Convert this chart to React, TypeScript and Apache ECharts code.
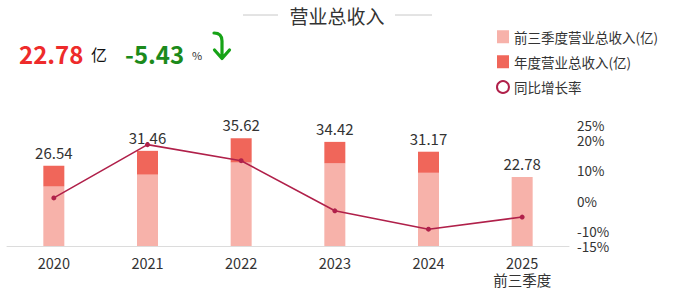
import React, { useEffect, useRef } from "react";
import * as echarts from "echarts";

const years = ["2020", "2021", "2022", "2023", "2024", "2025\n前三季度"];
const q3Revenue = [19.7, 23.6, 27.6, 27.3, 24.2, 22.78];
const annualRevenue: (number | null)[] = [26.54, 31.46, 35.62, 34.42, 31.17, null];
const growthRate = [0.9, 18.5, 13.2, -3.37, -9.44, -5.43];
const rightTicks = [25, 20, 10, 0, -10, -15];

const headlineValue = "22.78";
const headlineUnit = "亿";
const headlineGrowth = "-5.43";

const FONT = "'Noto Sans CJK SC', 'Noto Sans', sans-serif";

echarts.graphic.registerShape(
  "downArrow",
  echarts.graphic.extendPath("M1 1 Q9 1 9 9 L9 26 M1.5 18 L9 26.5 L16.5 18", {})
);

export default function App() {
  const ref = useRef<HTMLDivElement>(null);
  useEffect(() => {
    if (!ref.current) return;
    document.body.style.margin = "0";
    const chart = echarts.init(ref.current, undefined, { renderer: "svg" });
    const remainder = annualRevenue.map((a, i) =>
      a == null ? null : +(a - q3Revenue[i]).toFixed(2)
    );
    const labelStyle = { show: true, position: "top", color: "#333", fontSize: 15, fontFamily: FONT, distance: 6 };
    chart.setOption({
      animation: false,
      textStyle: { fontFamily: FONT },
      grid: { left: 7, right: 110, top: 125, bottom: 47 },
      legend: {
        orient: "vertical",
        left: 491,
        top: 25,
        itemWidth: 12,
        itemHeight: 13,
        itemGap: 11.5,
        textStyle: { fontSize: 13.5, color: "#333", fontFamily: FONT },
        data: [
          { name: "前三季度营业总收入(亿)", icon: "rect" },
          { name: "年度营业总收入(亿)", icon: "rect" },
          {
            name: "同比增长率",
            icon: "circle",
            itemStyle: { color: "#fff", borderColor: "#B0204A", borderWidth: 2 },
          },
        ],
      },
      xAxis: {
        type: "category",
        data: years,
        axisLine: { lineStyle: { color: "#dcdcdc" } },
        axisTick: { show: false },
        axisLabel: { color: "#333", fontSize: 14.5, margin: 8, lineHeight: 17, fontFamily: FONT },
      },
      yAxis: [
        { type: "value", min: 0, max: 40, show: false, splitLine: { show: false } },
        {
          type: "value",
          min: -15,
          max: 25,
          interval: 5,
          position: "right",
          axisLine: { show: false },
          axisTick: { show: false },
          splitLine: { show: false },
          axisLabel: {
            color: "#333",
            fontSize: 13.5,
            lineHeight: 14,
            margin: 8,
            fontFamily: FONT,
            formatter: (v: number) => (rightTicks.includes(v) ? v + "%" : ""),
          },
        },
      ],
      graphic: [
        { type: "line", shape: { x1: 243, y1: 15, x2: 278, y2: 15 }, style: { stroke: "#c8c8c8", lineWidth: 1 } },
        { type: "line", shape: { x1: 395, y1: 15, x2: 432, y2: 15 }, style: { stroke: "#c8c8c8", lineWidth: 1 } },
        {
          type: "text",
          x: 337,
          y: 15,
          style: { text: "营业总收入", fontSize: 19, fill: "#333", fontFamily: FONT, align: "center", verticalAlign: "middle" },
        },
        {
          type: "text",
          x: 19,
          y: 53,
          style: { text: headlineValue, fontSize: 24, fontWeight: "bold", fill: "#EE2B2B", fontFamily: FONT, verticalAlign: "middle" },
        },
        {
          type: "text",
          x: 91,
          y: 54,
          style: { text: headlineUnit, fontSize: 16, fill: "#111", fontFamily: FONT, verticalAlign: "middle" },
        },
        {
          type: "text",
          x: 125,
          y: 53,
          style: { text: headlineGrowth, fontSize: 24, fontWeight: "bold", fill: "#1B8A1B", fontFamily: FONT, verticalAlign: "middle" },
        },
        {
          type: "text",
          x: 192,
          y: 55,
          style: { text: "%", fontSize: 11, fill: "#333", fontFamily: FONT, verticalAlign: "middle" },
        },
        {
          type: "downArrow",
          x: 213,
          y: 32,
          style: { stroke: "#17A317", lineWidth: 3.2, fill: "none", lineCap: "round", lineJoin: "round" },
        },
      ],
      series: [
        {
          name: "前三季度营业总收入(亿)",
          type: "bar",
          stack: "rev",
          barWidth: 21,
          itemStyle: { color: "#F7B2AA" },
          data: q3Revenue.map((v, i) =>
            annualRevenue[i] == null
              ? { value: v, label: { ...labelStyle, formatter: () => v.toFixed(2) } }
              : { value: v }
          ),
        },
        {
          name: "年度营业总收入(亿)",
          type: "bar",
          stack: "rev",
          barWidth: 21,
          itemStyle: { color: "#F0665A" },
          data: remainder.map((v, i) =>
            v == null
              ? null
              : { value: v, label: { ...labelStyle, formatter: () => (annualRevenue[i] as number).toFixed(2) } }
          ),
        },
        {
          name: "同比增长率",
          type: "line",
          yAxisIndex: 1,
          data: growthRate,
          symbol: "circle",
          symbolSize: 5,
          lineStyle: { color: "#B0204A", width: 1.6 },
          itemStyle: { color: "#B0204A" },
          z: 5,
        },
      ],
    });
    return () => chart.dispose();
  }, []);
  return <div ref={ref} style={{ width: 679, height: 293 }} />;
}
